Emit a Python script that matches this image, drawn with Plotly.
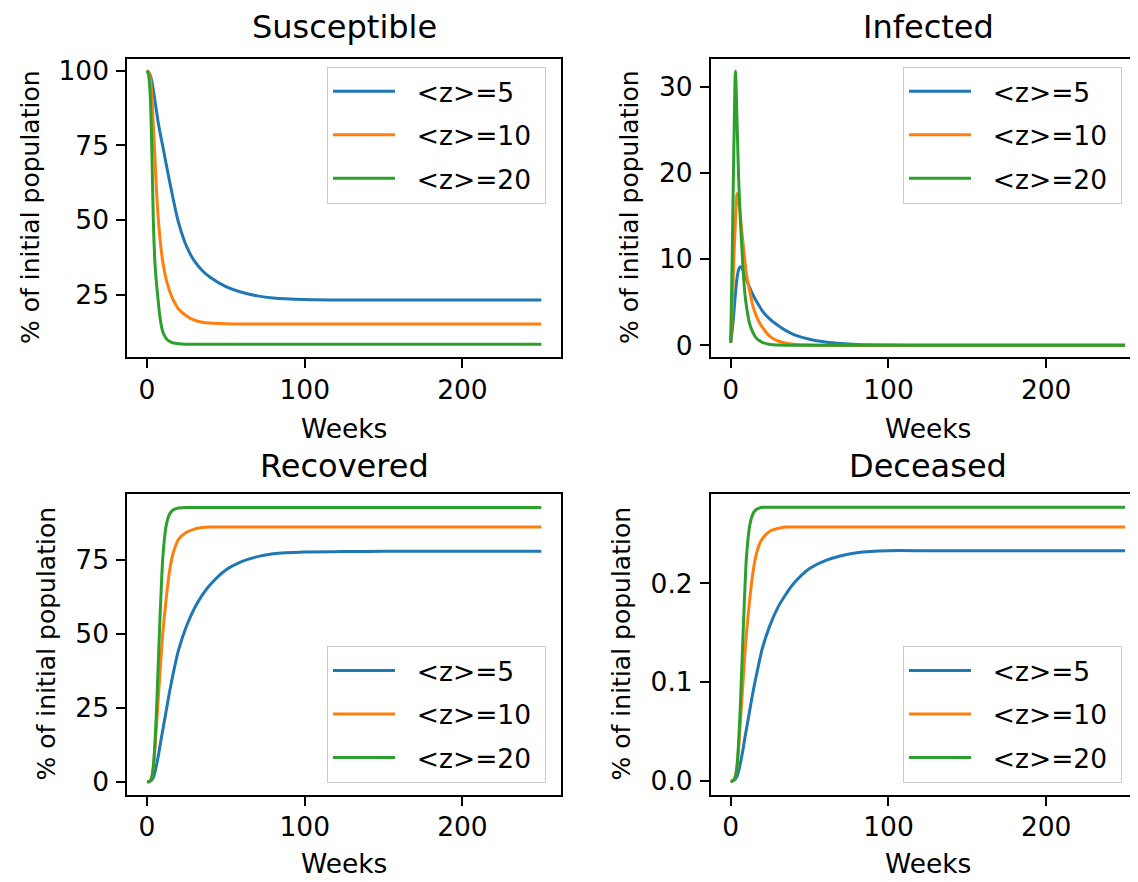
import plotly.graph_objects as go

# ---------------- data ----------------
weeks = [0, 1, 2, 3, 4, 5, 6, 7, 8, 9, 10, 12, 14, 16, 18, 20, 25, 30, 35, 40,
         50, 60, 70, 80, 100, 125, 150, 200, 250]
series_labels = ["<z>=5", "<z>=10", "<z>=20"]
panel_titles = ["Susceptible", "Infected", "Recovered", "Deceased"]

susceptible_z5 = [100, 99.5, 98.5, 96.5, 93.5, 90.0, 86.5, 83.0, 80.0, 77.3, 74.7, 69.2, 63.8, 58.6,
                  53.6, 49.2, 41.3, 36.4, 33.2, 30.9, 27.8, 25.9, 24.7, 24.0, 23.5, 23.3, 23.3, 23.3, 23.3]
susceptible_z10 = [100, 99.5, 97.5, 92.0, 82.0, 71.0, 60.0, 51.5, 45.0, 40.0, 36.0, 30.5, 26.8, 24.0,
                   22.0, 20.3, 18.0, 16.6, 15.9, 15.6, 15.4, 15.3, 15.3, 15.3, 15.3, 15.3, 15.3, 15.3, 15.3]
susceptible_z20 = [100, 98.5, 92.0, 75.0, 50.0, 36.0, 29.0, 23.5, 18.5, 15.0, 12.7, 10.6, 9.6, 9.1,
                   8.85, 8.7, 8.55, 8.5, 8.5, 8.5, 8.5, 8.5, 8.5, 8.5, 8.5, 8.5, 8.5, 8.5, 8.5]

infected_z5 = [0.3, 1.8, 3.8, 6.0, 7.8, 8.8, 9.1, 9.0, 8.6, 8.1, 7.6, 6.7, 5.9, 5.2, 4.6, 4.0, 3.0,
               2.3, 1.7, 1.25, 0.7, 0.38, 0.2, 0.1, 0.03, 0.01, 0.0, 0.0, 0.0]
infected_z10 = [0.3, 4.5, 10.0, 14.5, 17.6, 16.8, 15.3, 13.3, 11.5, 9.8, 8.2, 6.3, 4.6, 3.5, 2.7, 2.1,
                1.0, 0.5, 0.25, 0.12, 0.03, 0.01, 0.0, 0.0, 0.0, 0.0, 0.0, 0.0, 0.0]
infected_z20 = [0.3, 11.0, 23.0, 31.8, 26.0, 19.5, 15.0, 11.5, 8.3, 6.0, 4.5, 2.5, 1.5, 0.9, 0.55,
                0.35, 0.1, 0.04, 0.02, 0.01, 0.0, 0.0, 0.0, 0.0, 0.0, 0.0, 0.0, 0.0, 0.0]

recovered_z5 = [0.0, 0.0, 0.2, 0.6, 1.5, 3.2, 5.6, 8.3, 11.3, 14.5, 17.5, 23.5, 29.5, 35.0, 40.0,
                44.5, 52.5, 58.5, 63.0, 66.5, 71.5, 74.3, 76.0, 77.0, 77.6, 77.7, 77.8, 77.8, 77.8]
recovered_z10 = [0.0, 0.0, 0.3, 1.5, 5.0, 11.0, 19.0, 27.0, 35.0, 43.0, 50.0, 61.0, 70.0, 76.0, 79.5,
                 81.8, 84.2, 85.3, 85.8, 86.0, 86.0, 86.0, 86.0, 86.0, 86.0, 86.0, 86.0, 86.0, 86.0]
recovered_z20 = [0.0, 0.0, 0.3, 1.5, 5.0, 13.0, 24.0, 38.0, 52.0, 65.0, 75.5, 86.0, 90.0, 91.5, 92.1,
                 92.4, 92.6, 92.6, 92.6, 92.6, 92.6, 92.6, 92.6, 92.6, 92.6, 92.6, 92.6, 92.6, 92.6]

deceased_z5 = [0.0, 0.0, 0.001, 0.002, 0.005, 0.010, 0.017, 0.025, 0.034, 0.044, 0.053, 0.071, 0.089,
               0.105, 0.120, 0.134, 0.158, 0.176, 0.189, 0.200, 0.215, 0.223, 0.228, 0.231, 0.233,
               0.233, 0.233, 0.233, 0.233]
deceased_z10 = [0.0, 0.0, 0.001, 0.005, 0.015, 0.033, 0.057, 0.081, 0.105, 0.129, 0.150, 0.183, 0.210,
                0.228, 0.239, 0.245, 0.253, 0.2555, 0.257, 0.257, 0.257, 0.257, 0.257, 0.257, 0.257,
                0.257, 0.257, 0.257, 0.257]
deceased_z20 = [0.0, 0.0, 0.001, 0.005, 0.015, 0.039, 0.072, 0.114, 0.156, 0.195, 0.227, 0.258, 0.270,
                0.2745, 0.276, 0.277, 0.277, 0.277, 0.277, 0.277, 0.277, 0.277, 0.277, 0.277, 0.277,
                0.277, 0.277, 0.277, 0.277]

x_ticks = [0, 100, 200]
s_ticks = [25, 50, 75, 100]
i_ticks = [0, 10, 20, 30]
r_ticks = [0, 25, 50, 75]
d_ticks = [0.0, 0.1, 0.2]

# ---------------- styling / layout ----------------
OFF = 8                      # default page margin of the html body
FW, FH = 1138 - OFF, 882 - OFF
colors = ["#1f77b4", "#ff7f0e", "#2ca02c"]
FONT = "DejaVu Sans"
NB = "\u00a0"


def px_x(p):
    return (p - OFF) / FW


def px_y(p):
    return 1 - (p - OFF) / FH


left_dom = [px_x(127.3), px_x(561)]
right_dom = [px_x(711), 1.0]
top_dom = [px_y(356), px_y(55)]
bot_dom = [px_y(797), px_y(494)]

panels = [
    dict(data=[susceptible_z5, susceptible_z10, susceptible_z20], xd=left_dom, yd=top_dom,
         yr=[4.2, 104.0], yt=s_ticks, legend="legend", xr=[-12.5, 262.5], mirror_y=True),
    dict(data=[infected_z5, infected_z10, infected_z20], xd=right_dom, yd=top_dom,
         yr=[-1.38, 33.26], yt=i_ticks, legend="legend2", xr=[-12.5, 258.2], mirror_y=False),
    dict(data=[recovered_z5, recovered_z10, recovered_z20], xd=left_dom, yd=bot_dom,
         yr=[-4.35, 97.1], yt=r_ticks, legend="legend3", xr=[-12.5, 262.5], mirror_y=True),
    dict(data=[deceased_z5, deceased_z10, deceased_z20], xd=right_dom, yd=bot_dom,
         yr=[-0.0138, 0.2903], yt=d_ticks, legend="legend4", xr=[-12.5, 258.2], mirror_y=False),
]

TICK = 26.5
fig = go.Figure()
layout = {}
for k, p in enumerate(panels):
    n = "" if k == 0 else str(k + 1)
    for j in range(3):
        label = NB * 2 + series_labels[j].replace("<", "&lt;").replace(">", "&gt;") + NB
        fig.add_trace(go.Scatter(
            x=weeks, y=p["data"][j], mode="lines", name=label,
            line=dict(color=colors[j], width=3, shape="spline", smoothing=0.8),
            xaxis="x" + n, yaxis="y" + n, legend=p["legend"],
            legendgroup=f"g{k}_{j}", hoverinfo="skip"))
    layout["xaxis" + n] = dict(
        domain=p["xd"], range=p["xr"], anchor="y" + n, tickvals=x_ticks,
        showline=True, linecolor="black", linewidth=2, mirror=True,
        ticks="outside", ticklen=9, tickwidth=2, tickcolor="black",
        showgrid=False, zeroline=False, ticklabelstandoff=-1,
        tickfont=dict(size=TICK, color="black", family=FONT))
    ytf = ".1f" if k == 3 else "d"
    layout["yaxis" + n] = dict(
        domain=p["yd"], range=p["yr"], anchor="x" + n, tickvals=p["yt"], tickformat=ytf,
        showline=True, linecolor="black", linewidth=2, mirror=p["mirror_y"],
        ticks="outside", ticklen=9, tickwidth=2, tickcolor="black",
        showgrid=False, zeroline=False, ticklabelstandoff=2,
        tickfont=dict(size=TICK, color="black", family=FONT))

legend_common = dict(bgcolor="rgba(255,255,255,0.8)", bordercolor="#cccccc", borderwidth=1,
                     font=dict(size=TICK, color="black", family=FONT), tracegroupgap=6,
                     itemwidth=62)
layout["legend"] = dict(x=px_x(546), y=px_y(63), xanchor="right", yanchor="top", **legend_common)
layout["legend2"] = dict(x=px_x(1122), y=px_y(63), xanchor="right", yanchor="top", **legend_common)
layout["legend3"] = dict(x=px_x(546), y=px_y(785), xanchor="right", yanchor="bottom", **legend_common)
layout["legend4"] = dict(x=px_x(1122), y=px_y(785), xanchor="right", yanchor="bottom", **legend_common)

annotations = []
centers_x = [344, 928, 344, 928]
title_y = [23, 23, 466, 466]
weeks_y = [427.5, 427.5, 866, 866]
ylab_x = [31, 630, 46, 621]
ylab_y = [205.5, 205.5, 645.5, 645.5]
for k in range(4):
    annotations.append(dict(text=panel_titles[k], x=px_x(centers_x[k]), y=px_y(title_y[k]),
                            xref="paper", yref="paper", xanchor="center", yanchor="middle",
                            showarrow=False, font=dict(size=32, color="black", family=FONT)))
    annotations.append(dict(text="Weeks", x=px_x(centers_x[k]), y=px_y(weeks_y[k]),
                            xref="paper", yref="paper", xanchor="center", yanchor="middle",
                            showarrow=False, font=dict(size=TICK, color="black", family=FONT)))
    annotations.append(dict(text="% of initial population", x=px_x(ylab_x[k]), y=px_y(ylab_y[k]),
                            xref="paper", yref="paper", xanchor="center", yanchor="middle",
                            textangle=-90, showarrow=False,
                            font=dict(size=25, color="black", family=FONT)))

fig.update_layout(width=FW, height=FH, margin=dict(l=0, r=0, t=0, b=0),
                  plot_bgcolor="white", paper_bgcolor="white",
                  font=dict(family=FONT, color="black"), annotations=annotations, **layout)

fig.write_html("out.html")
